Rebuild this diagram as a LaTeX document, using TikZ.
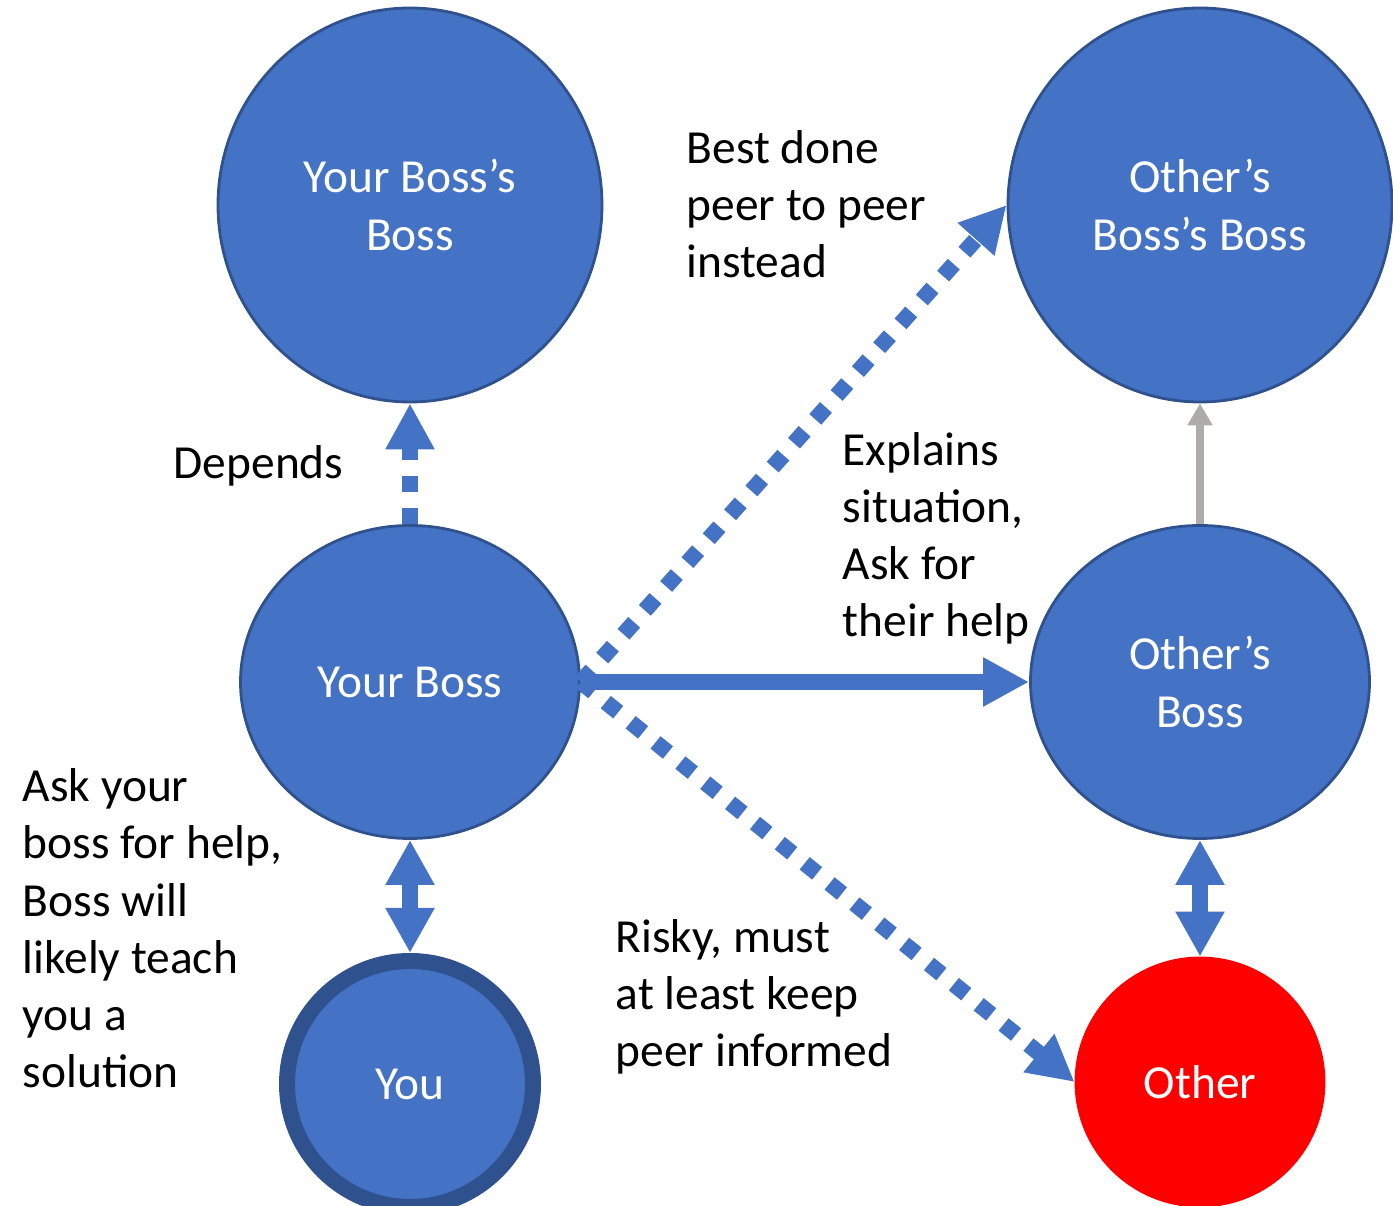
\documentclass[tikz,border=0pt]{standalone}
\usepackage{fontspec}
\setmainfont{Carlito}
\usetikzlibrary{shapes.geometric, arrows.meta}

\definecolor{officeblue}{HTML}{4472C4}
\definecolor{darkblue}{HTML}{2F528F}
\definecolor{arrowgray}{HTML}{AFABAB}

\begin{document}
\begin{tikzpicture} [scale = 1,
  person/.style = {ellipse, fill=officeblue, draw=darkblue, line width=0.8pt,
    inner sep=0pt, text=white, align=center, font=\fontsize{13.5}{16.3}\selectfont},
  note/.style = {black, anchor=base west, inner sep=0pt, align=left,
    font=\fontsize{13.5}{16.3}\selectfont},
  link/.style = {officeblue, line width=0.16cm, -{Triangle[width=0.46cm, length=0.46cm]}},
  dotlink/.style = {link, dash pattern=on 0.16cm off 0.16cm},
  twoway/.style = {link, {Triangle[width=0.46cm, length=0.45cm]}-{Triangle[width=0.46cm, length=0.45cm]}}]
\useasboundingbox (0, 0) rectangle (13.93, 12.06);

% people
\node[person, minimum width=3.84cm, minimum height=3.94cm] (ybb) at (4.10, 10.01){Your Boss’s\\Boss};
\node[person, minimum width=3.84cm, minimum height=3.94cm] (obb) at (12.00, 10.01){Other’s\\Boss’s Boss};
\node[person, minimum width=3.39cm, minimum height=3.13cm] (yb) at (4.10, 5.24){Your Boss};
\node[person, minimum width=3.39cm, minimum height=3.13cm] (ob) at (12.00, 5.24){Other’s\\Boss};
\node[person, circle, minimum size=2.46cm, line width=0.16cm] (you) at (4.10, 1.22){You};
\node[person, circle, minimum size=2.48cm, fill=red, draw=red] (other) at (12.00, 1.24){Other};

% notes (placed at the baseline of their last line)
\node[note] (n1) at (6.86, 9.28){Best done\\peer to peer\\instead};
\node[note] (n2) at (1.73, 7.27){Depends};
\node[note] (n3) at (8.42, 5.69){Explains\\situation,\\Ask for\\their help};
\node[note] (n4) at (0.22, 1.18){Ask your\\boss for help,\\Boss will\\likely teach\\you a\\solution};
\node[note] (n5) at (6.15, 1.39){Risky, must\\at least keep\\peer informed};

% links
\draw[dotlink] (yb.north) -- (ybb.south);
\draw[twoway] (yb.south) -- (you.north);
\draw[twoway] (ob.south) -- (other.north);
\draw[link] (yb.east) -- (ob.west);
\draw[dotlink] (yb.east) -- (obb.west);
\draw[dotlink] (yb.east) -- (other.west);
\draw[arrowgray, line width=0.08cm, -{Triangle[width=0.24cm, length=0.22cm]}] (ob.north) -- (obb.south);
\end{tikzpicture}
\end{document}
